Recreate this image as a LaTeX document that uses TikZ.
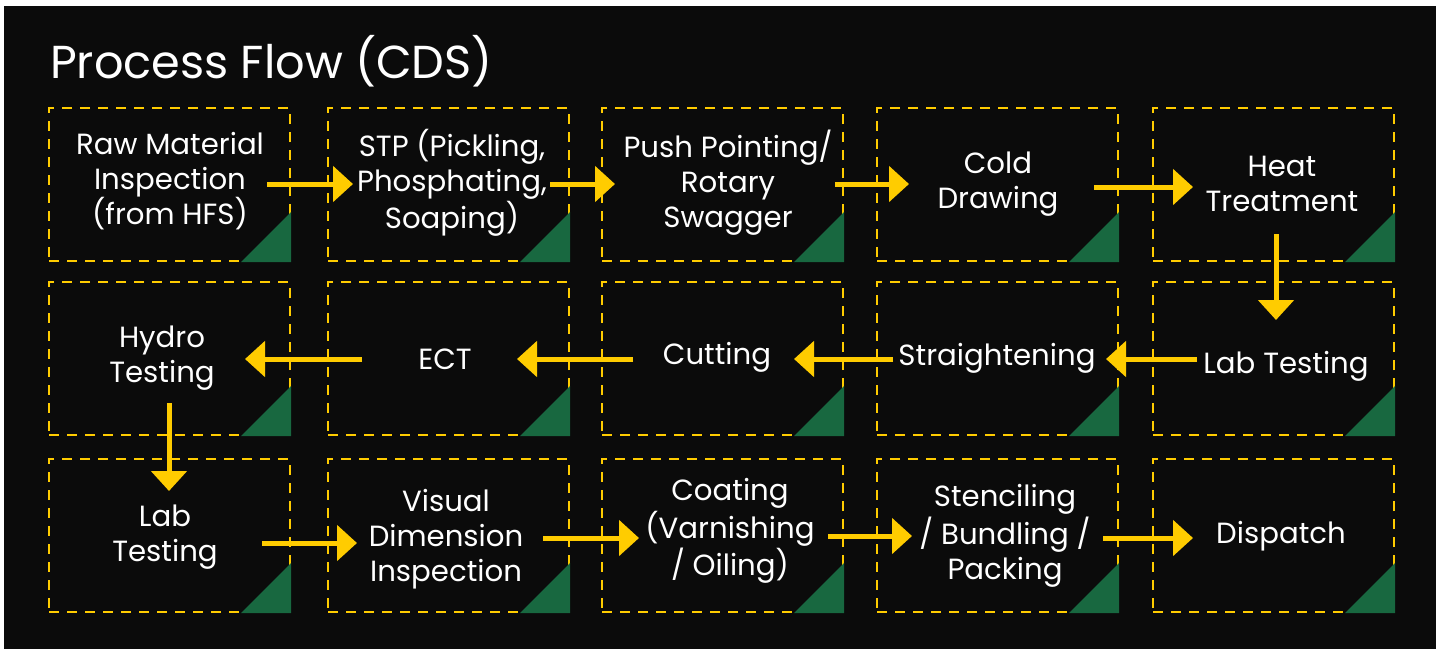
\documentclass[tikz,border=0pt]{standalone}
\usepackage{fontspec}
\setmainfont{Poppins}
\usetikzlibrary{arrows.meta}
\definecolor{flowyellow}{RGB}{255,204,0}
\definecolor{flowgreen}{RGB}{24,104,64}
\definecolor{flowblack}{RGB}{11,11,11}
\tikzset{
    stepcell/.style = {rectangle, draw=flowyellow, line width=1pt, dash pattern=on 5pt off 4pt, minimum width=120.5pt, minimum height=76.5pt},
    steptext/.style = {text=white, align=center, font=\fontsize{14.6}{17.5}\selectfont},
    titletext/.style = {anchor=base west, text=white, font=\fontsize{23.1}{28}\selectfont},
    corner/.style = {fill=flowgreen},
    flow/.style = {-{Triangle[length=10pt,width=17.5pt]}, line width=2.5pt, draw=flowyellow}
}
\newcommand{\Corner}[1]{\fill[corner] (#1.south east) -- ++(0,-50) -- ++(-50,50) -- cycle;}

\begin{document}
\begin{tikzpicture}[x=0.5pt,y=-0.5pt]
\fill[white] (0,0) rectangle (1444,649);
\fill[flowblack] (4,6) rectangle (1436,649);
\node[titletext] at (43,78) (title) {Process Flow (CDS)};
% boxes, row by row
\node[stepcell] at (169.5,184.5) (b1) {};
\node[stepcell] at (448.5,184.5) (b2) {};
\node[stepcell] at (722.5,184.5) (b3) {};
\node[stepcell] at (997.5,184.5) (b4) {};
\node[stepcell] at (1273.5,184.5) (b5) {};
\node[stepcell] at (169.5,358.5) (b6) {};
\node[stepcell] at (448.5,358.5) (b7) {};
\node[stepcell] at (722.5,358.5) (b8) {};
\node[stepcell] at (997.5,358.5) (b9) {};
\node[stepcell] at (1273.5,358.5) (b10) {};
\node[stepcell] at (169.5,535.5) (b11) {};
\node[stepcell] at (448.5,535.5) (b12) {};
\node[stepcell] at (722.5,535.5) (b13) {};
\node[stepcell] at (997.5,535.5) (b14) {};
\node[stepcell] at (1273.5,535.5) (b15) {};
%
\Corner{b1} \Corner{b2} \Corner{b3} \Corner{b4} \Corner{b5}
\Corner{b6} \Corner{b7} \Corner{b8} \Corner{b9} \Corner{b10}
\Corner{b11} \Corner{b12} \Corner{b13} \Corner{b14} \Corner{b15}
% labels
\node[steptext] at (170,181) (t1) {Raw Material\\Inspection\\(from HFS)};
\node[steptext] at (452,183) (t2) {STP (Pickling,\\Phosphating,\\Soaping)};
\node[steptext] at (728,183) (t3) {Push Pointing/\\Rotary\\Swagger};
\node[steptext] at (998,184) (t4) {Cold\\Drawing};
\node[steptext] at (1282,184) (t5) {Heat\\Treatment};
\node[steptext] at (162,358) (t6) {Hydro\\Testing};
\node[steptext] at (445,359) (t7) {ECT};
\node[steptext] at (717,357) (t8) {Cutting};
\node[steptext] at (997,358) (t9) {Straightening};
\node[steptext] at (1286,366) (t10) {Lab Testing};
\node[steptext] at (165,537) (t11) {Lab\\Testing};
\node[steptext] at (446,539) (t12) {Visual\\Dimension\\Inspection};
\node[steptext] at (730,531) (t13) {Coating\\(Varnishing\\/ Oiling)};
\node[steptext] at (1005,536) (t14) {Stenciling\\/ Bundling /\\Packing};
\node[steptext] at (1281,536) (t15) {Dispatch};
% arrow ends
\coordinate (a1s) at (267,184);  \coordinate (a1e) at (353,184);
\coordinate (a2s) at (550,184);  \coordinate (a2e) at (615,184);
\coordinate (a3s) at (835,184);  \coordinate (a3e) at (909,184);
\coordinate (a4s) at (1094,187); \coordinate (a4e) at (1193,187);
\coordinate (a5s) at (1276,234); \coordinate (a5e) at (1276,320);
\coordinate (a6s) at (1197,359); \coordinate (a6e) at (1106,359);
\coordinate (a7s) at (893,359);  \coordinate (a7e) at (794,359);
\coordinate (a8s) at (633,359);  \coordinate (a8e) at (517,359);
\coordinate (a9s) at (362,359);  \coordinate (a9e) at (245,359);
\coordinate (a10s) at (169,403); \coordinate (a10e) at (169,491);
\coordinate (a11s) at (262,543); \coordinate (a11e) at (357,543);
\coordinate (a12s) at (543,538); \coordinate (a12e) at (639,538);
\coordinate (a13s) at (828,536); \coordinate (a13e) at (912,536);
\coordinate (a14s) at (1103,538); \coordinate (a14e) at (1193,538);
%
\draw[flow] (a1s) -- (a1e);
\draw[flow] (a2s) -- (a2e);
\draw[flow] (a3s) -- (a3e);
\draw[flow] (a4s) -- (a4e);
\draw[flow] (a5s) -- (a5e);
\draw[flow] (a6s) -- (a6e);
\draw[flow] (a7s) -- (a7e);
\draw[flow] (a8s) -- (a8e);
\draw[flow] (a9s) -- (a9e);
\draw[flow] (a10s) -- (a10e);
\draw[flow] (a11s) -- (a11e);
\draw[flow] (a12s) -- (a12e);
\draw[flow] (a13s) -- (a13e);
\draw[flow] (a14s) -- (a14e);

\end{tikzpicture}
\end{document}
